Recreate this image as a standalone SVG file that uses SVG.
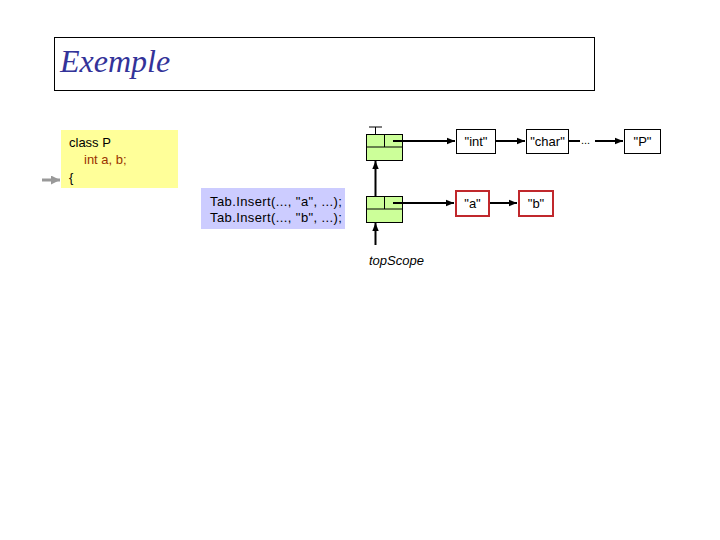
<svg xmlns="http://www.w3.org/2000/svg" width="720" height="540" viewBox="0 0 720 540">
<style>
text{font-family:"Liberation Sans",Arial,sans-serif;font-size:13px;fill:#000}
.node{fill:#fff;stroke:#000;stroke-width:1}
.red{fill:#fff;stroke:#c0282c;stroke-width:2}
.scope{fill:#ccff99;stroke:#000;stroke-width:1}
.c{stroke:#000;stroke-width:2;fill:none}
</style>
<defs>
<marker id="ah" viewBox="0 0 10 10" refX="10" refY="5" markerWidth="4" markerHeight="4" orient="auto" markerUnits="strokeWidth">
<path d="M0,1 L10,5 L0,9 z" fill="#000"/>
</marker>
<marker id="gh" viewBox="0 0 10 10" refX="10" refY="5" markerWidth="3" markerHeight="3" orient="auto" markerUnits="strokeWidth">
<path d="M0,0 L10,5 L0,10 z" fill="#999"/>
</marker>
</defs>
<g id="title">
<rect x="54.5" y="37.5" width="540" height="53" fill="#fff" stroke="#000"/>
<text x="60" y="72" style="font-family:'Liberation Serif','Times New Roman',serif;font-style:italic;font-size:32px;fill:#333399">Exemple</text>
</g>
<g id="code">
<rect x="61" y="130" width="117" height="58" fill="#ffff99"/>
<text x="69" y="147">class P</text>
<text x="84" y="164" style="fill:#993300">int a, b;</text>
<text x="69" y="182">{</text>
</g>
<g id="insert">
<rect x="201" y="188" width="144" height="41" fill="#ccccff"/>
<text x="210" y="206" style="letter-spacing:0.4px">Tab.Insert(..., "a", ...);</text>
<text x="210" y="222" style="letter-spacing:0.4px">Tab.Insert(..., "b", ...);</text>
</g>
<g id="scope1">
<rect class="scope" x="366.5" y="134.5" width="36" height="26"/>
<line x1="366.5" y1="147" x2="402.5" y2="147" stroke="#000"/>
<line x1="384.5" y1="134.5" x2="384.5" y2="147" stroke="#000"/>
</g>
<g id="scope2">
<rect class="scope" x="366.5" y="196.5" width="36" height="26"/>
<line x1="366.5" y1="209" x2="402.5" y2="209" stroke="#000"/>
<line x1="384.5" y1="196.5" x2="384.5" y2="209" stroke="#000"/>
</g>
<g id="n-int"><rect class="node" x="456.5" y="129.5" width="39" height="24"/><text x="476" y="146" text-anchor="middle">"int"</text></g>
<g id="n-char"><rect class="node" x="526.5" y="129.5" width="42" height="24"/><text x="547.5" y="146" text-anchor="middle">"char"</text></g>
<g id="n-P"><rect class="node" x="624.5" y="129.5" width="36" height="24"/><text x="642.5" y="146" text-anchor="middle">"P"</text></g>
<g id="n-a"><rect class="red" x="456" y="191" width="33" height="25"/><text x="472.5" y="208" text-anchor="middle">"a"</text></g>
<g id="n-b"><rect class="red" x="519" y="191" width="34" height="25"/><text x="536" y="208" text-anchor="middle">"b"</text></g>
<g id="label"><text x="369" y="265" style="font-style:italic">topScope</text></g>
<g id="connectors">
<path d="M42,180 L60,180" stroke="#999" stroke-width="3" fill="none" marker-end="url(#gh)"/>
<path d="M369,127 H382 M375.5,127 V134" stroke="#000" stroke-width="1" fill="none"/>
<path class="c" d="M393,141 H455" marker-end="url(#ah)"/>
<path class="c" d="M495,141 H525" marker-end="url(#ah)"/>
<path class="c" d="M568,141 H580"/>
<text x="581" y="144" style="font-size:11px">...</text>
<path class="c" d="M595,141 H623" marker-end="url(#ah)"/>
<path class="c" d="M393,203 H454" marker-end="url(#ah)"/>
<path class="c" d="M490,203 H517" marker-end="url(#ah)"/>
<path class="c" d="M375.5,196 V161" marker-end="url(#ah)"/>
<path class="c" d="M375.5,245 V223" marker-end="url(#ah)"/>
</g>
</svg>
